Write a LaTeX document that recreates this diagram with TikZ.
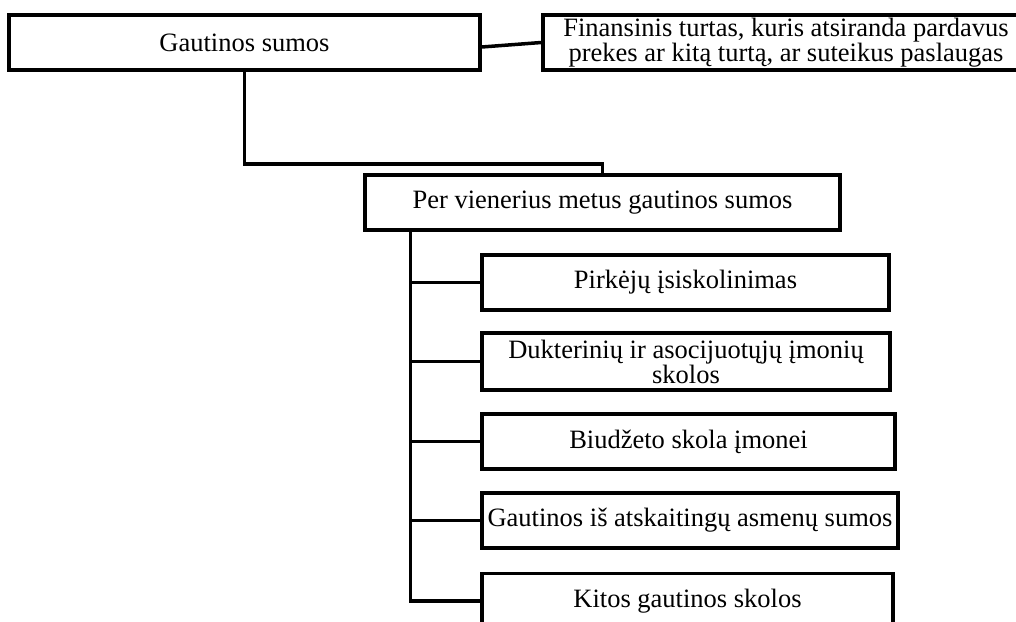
\documentclass[tikz,border=0pt]{standalone}
\usepackage{fontspec}
\setmainfont{Liberation Serif}
\usetikzlibrary{calc}

\begin{document}
\begin{tikzpicture}[x=1pt,y=-1pt,line width=3.5pt,
  box/.style={draw,rectangle,minimum height=55pt,inner sep=0pt,align=center,
    font=\fontsize{26.5}{25}\selectfont}]
\useasboundingbox (0,0) rectangle (1016,621);
\clip (0,0) rectangle (1016,621);
\node[box,minimum width=471pt] (gs) at (244.5,42.5) {Gautinos sumos};
\node[box,minimum width=486pt] (fin) at (786,42.5) {Finansinis turtas, kuris atsiranda pardavus\\prekes ar kitą turtą, ar suteikus paslaugas};
\node[box,minimum width=475pt] (per) at (602.5,202.5) {Per vienerius metus gautinos sumos};
\node[box,minimum width=407pt] (pirk) at (685.5,282.5) {Pirkėjų įsiskolinimas};
\node[box,minimum width=408pt,minimum height=57pt] (duk) at (686,361.5) {Dukterinių ir asocijuotųjų įmonių\\skolos};
\node[box,minimum width=413pt] (biu) at (688.5,441.5) {Biudžeto skola įmonei};
\node[box,minimum width=416pt] (gai) at (690,520.5) {Gautinos iš atskaitingų asmenų sumos};
\node[box,minimum width=411pt] (kit) at (687.5,601) {Kitos gautinos skolos};
\draw ($(gs.east)+(0,4.5)$) -- (fin.west);
\draw (gs.south) -- ++(0,92) -| (per.north);
\coordinate (spine) at ($(per.south west)+(47,0)$);
\draw (spine) |- (kit.west);
\foreach \c in {pirk,duk,biu,gai}
  \draw (spine |- \c.west) -- (\c.west);
\end{tikzpicture}
\end{document}
